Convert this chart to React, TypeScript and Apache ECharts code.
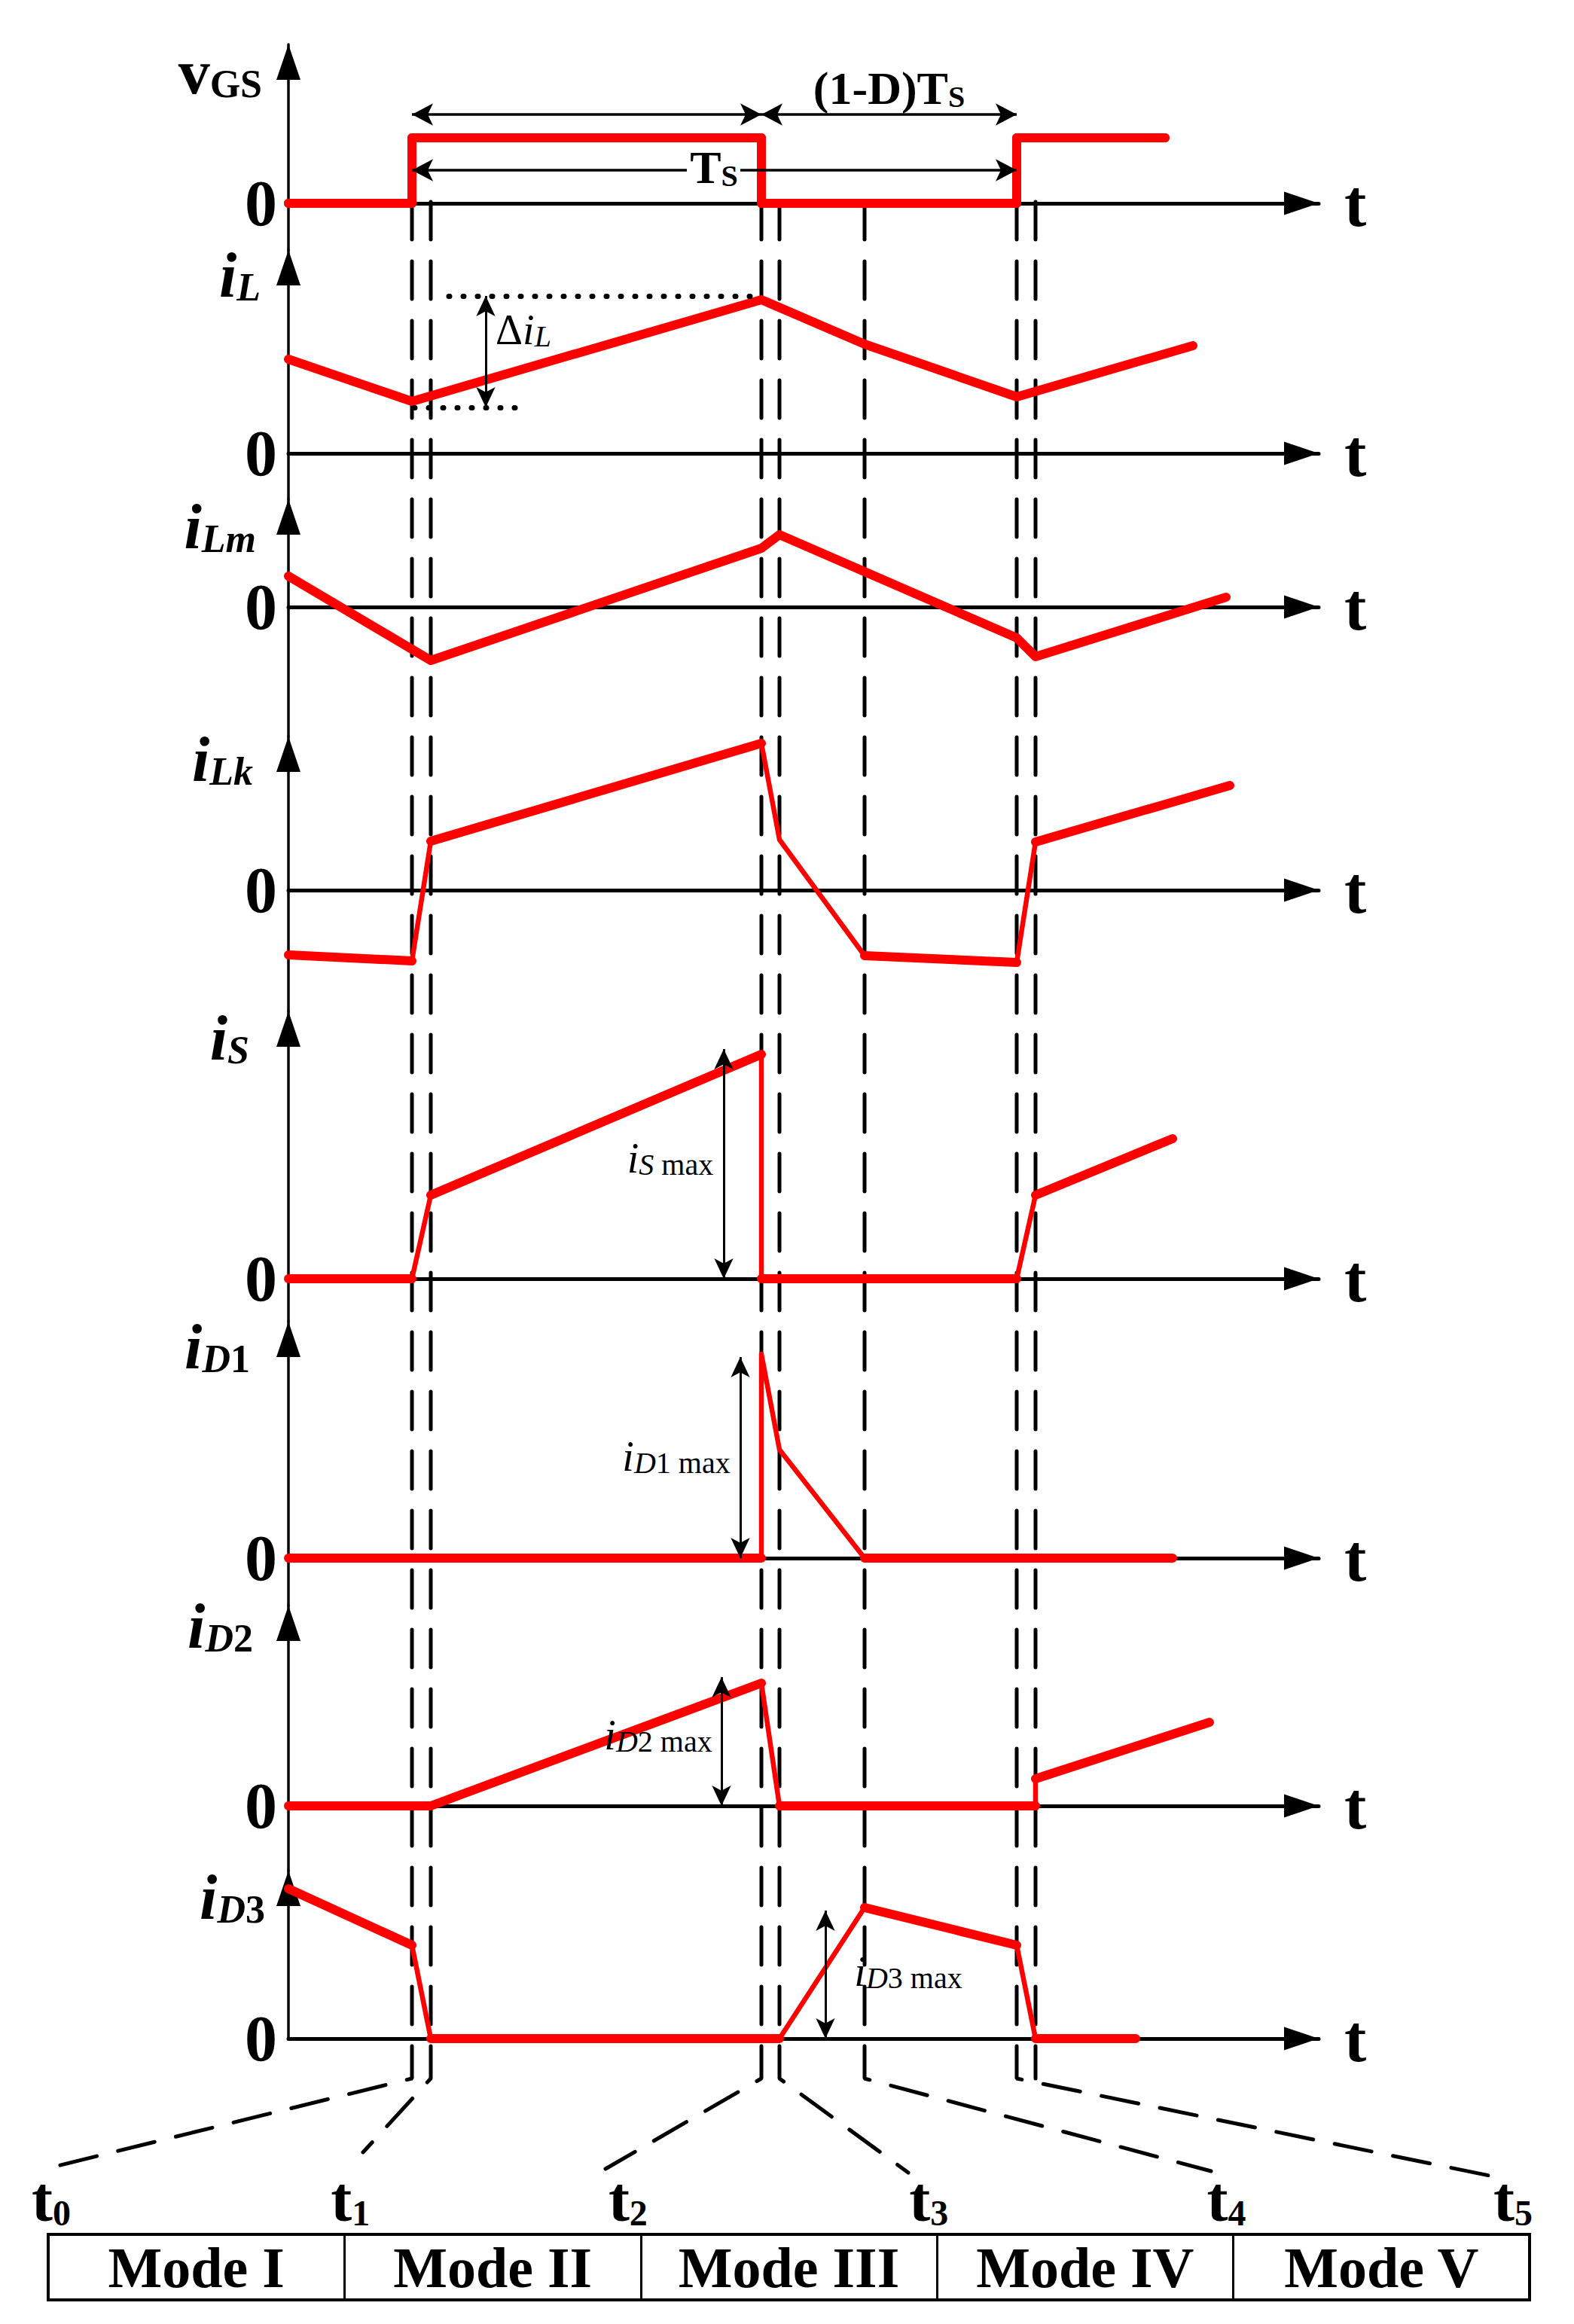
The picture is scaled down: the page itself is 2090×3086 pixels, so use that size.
import React, { useEffect, useRef } from 'react';
import * as echarts from 'echarts';

const W = 2090;
const H = 3086;
const SERIF = 'Liberation Serif';

// ---- switching instants (time units) ----
const T1A = 1.64, T1B = 1.89, T2A = 6.28, T2B = 6.52, T3 = 7.65, T4A = 9.67, T4B = 9.92;

// ---- waveforms [time, value] ----
const vgs = [[0, 0], [T1A, 0], [T1A, 0.87], [T2A, 0.87], [T2A, 0], [T4A, 0], [T4A, 0.87], [11.64, 0.87]];
const iL = [[0, 1.25], [T1A, 0.69], [T2A, 2.04], [T3, 1.45], [T4A, 0.75], [12.01, 1.43]];
const iLm = [[0, 0.41], [T1B, -0.71], [T2A, 0.78], [T2B, 0.96], [T4A, -0.41], [T4B, -0.66], [12.45, 0.13]];
const iLk = [[0, -0.86], [T1A, -0.94], [T1B, 0.65], [T2A, 1.95], [T2B, 0.67], [T3, -0.87], [T4A, -0.96], [T4B, 0.64], [12.5, 1.39]];
const iS = [[0, 0], [T1A, 0], [T1B, 1.11], [T2A, 2.98], [T2A, 0], [T4A, 0], [T4B, 1.11], [11.74, 1.86]];
const iD1 = [[0, 0], [T2A, 0], [T2A, 2.71], [T2B, 1.44], [T3, 0], [11.74, 0]];
const iD2 = [[0, 0], [T1B, 0], [T2A, 1.63], [T2B, 0], [T4B, 0], [T4B, 0.36], [12.23, 1.11]];
const iD3 = [[0, 1.99], [T1A, 1.24], [T1B, 0], [T2B, 0], [T3, 1.74], [T4A, 1.24], [T4B, 0], [11.25, 0]];

const waveforms = [vgs, iL, iLm, iLk, iS, iD1, iD2, iD3];
const panelNames = [
  '{v|v}{u|GS}', '{i|i}{s|L}', '{i|i}{s|Lm}', '{i|i}{s|Lk}',
  '{i|i}{s|S}', '{i|i}{s|D}{u|1}', '{i|i}{s|D}{u|2}', '{i|i}{s|D}{u|3}',
];

// ---- annotations ----
const DUTY_LEVEL = 1.18;          // D·Ts / (1-D)Ts arrows (vGS units)
const PERIOD_LEVEL = 0.44;        // Ts arrow
const periodGap = [5.29, 6.0];    // break in the Ts arrow around its label
const periodLabel = [5.65, 0.48];
const rippleHi = 2.09, rippleLo = 0.61, rippleArrowT = 2.62;
const rippleHiFrom = 2.13, rippleLoFrom = 1.67, rippleLoTo = 3.08;
// [panel index, time, top value]
const maxArrows = [[4, 5.78, 3.05], [5, 6.0, 2.67], [6, 5.75, 1.71], [7, 7.13, 1.7]];
// [panel index, time, value, text]
const annTexts = [
  [1, 3.12, 1.64, '{d|Δ}{i|i}{s|L}'],
  [4, 5.07, 1.6, '{i|i}{s|S}{m| max}'],
  [5, 5.15, 1.35, '{i|i}{s|D}{m|1 max}'],
  [6, 4.91, 0.94, '{i|i}{s|D}{m|2 max}'],
  [7, 8.23, 0.89, '{i|i}{s|D}{m|3 max}'],
];

// ---- dashed instants and mode table ----
const dashTimes = [T1A, T1B, T2A, T2B, T3, T4A, T4B];
const fanTargets = [[-3.23, 2880], [0.99, 2858], [4.21, 2880], [8.23, 2885], [12.25, 2883], [16.14, 2893], null];
const modes = ['Mode I', 'Mode II', 'Mode III', 'Mode IV', 'Mode V'];
const instantNames = ['0', '1', '2', '3', '4', '5'];
const instantLabelPos = [0.01, 1.02, 1.957, 2.972, 3.977, 4.944];

// ---- layout ----
const AXIS_LEFT = 383;
const PX_PER_UNIT = 100;
const T_MAX = 13.68;
const panelTops = [59, 332, 663, 978, 1343, 1755, 2132, 2484];
const panelZeros = [270, 602, 806, 1182, 1698, 2069, 2398, 2707];
const nameDrop = [36, 33, 36, 30, 35, 33, 27, 35];
const nameRight = [348, 346, 340, 336, 331, 332, 336, 352];
const DASH_TOP = 268, DASH_BOTTOM = 2760;
const TABLE = { left: 64, top: 2967, width: 1967, height: 87 };

const THICK = 12, THIN = 6.5, STEEP = 1.2;
const RED = '#ff0000';

const nameRich = {
  v: { fontFamily: SERIF, fontSize: 84, fontWeight: 'bold', lineHeight: 84, color: '#000' },
  i: { fontFamily: SERIF, fontSize: 84, fontWeight: 'bold', fontStyle: 'italic', lineHeight: 84, color: '#000' },
  s: { fontFamily: SERIF, fontSize: 52, fontWeight: 'bold', fontStyle: 'italic', lineHeight: 38, verticalAlign: 'bottom', color: '#000' },
  u: { fontFamily: SERIF, fontSize: 52, fontWeight: 'bold', lineHeight: 38, verticalAlign: 'bottom', color: '#000' },
};
const annRich = {
  d: { fontFamily: SERIF, fontSize: 56, lineHeight: 56, color: '#000' },
  i: { fontFamily: SERIF, fontSize: 56, fontStyle: 'italic', lineHeight: 56, color: '#000' },
  s: { fontFamily: SERIF, fontSize: 40, fontStyle: 'italic', lineHeight: 27, verticalAlign: 'bottom', color: '#000' },
  m: { fontFamily: SERIF, fontSize: 40, lineHeight: 27, verticalAlign: 'bottom', color: '#000' },
};
const topRich = {
  a: { fontFamily: SERIF, fontSize: 62, fontWeight: 'bold', lineHeight: 62, color: '#000' },
  b: { fontFamily: SERIF, fontSize: 40, fontWeight: 'bold', lineHeight: 36, verticalAlign: 'bottom', color: '#000' },
};

function thickPart(data: number[][], allThick: boolean) {
  const out: any[] = [];
  let lastEnd: number[] | null = null;
  for (let k = 0; k < data.length - 1; k++) {
    const a = data[k], b = data[k + 1];
    const steep = b[0] === a[0] || Math.abs((b[1] - a[1]) / (b[0] - a[0])) > STEEP;
    if (allThick || !steep) {
      if (lastEnd === a) {
        out.push(b);
      } else {
        if (out.length) out.push(['-', '-']);
        out.push(a, b);
      }
      lastEnd = b;
    }
  }
  return out;
}

function buildOption() {
  const n = panelTops.length;
  const grids: any[] = [];
  const xAxes: any[] = [];
  const yAxes: any[] = [];
  const series: any[] = [];

  for (let i = 0; i < n; i++) {
    const top = panelTops[i];
    const bottom = i + 1 < n ? panelTops[i + 1] : panelZeros[i];
    grids.push({ left: AXIS_LEFT, top, width: T_MAX * PX_PER_UNIT, height: bottom - top });
    xAxes.push({
      type: 'value', gridIndex: i, min: 0, max: T_MAX,
      axisLine: {
        show: true, onZero: true, lineStyle: { color: '#000', width: 5 },
        symbol: ['none', 'triangle'], symbolSize: [31, 46], symbolOffset: [0, -23],
      },
      axisTick: { show: false }, axisLabel: { show: false }, splitLine: { show: false },
      name: 't', nameLocation: 'end', nameGap: 34,
      nameTextStyle: { fontFamily: SERIF, fontSize: 88, fontWeight: 'bold', color: '#000', padding: [0, 0, 28, 0] },
    });
    yAxes.push({
      type: 'value', gridIndex: i,
      min: (panelZeros[i] - bottom) / PX_PER_UNIT,
      max: (panelZeros[i] - top) / PX_PER_UNIT,
      axisLine: {
        show: true, onZero: false, lineStyle: { color: '#000', width: 3.5 },
        symbol: ['none', 'triangle'], symbolSize: [32, 47], symbolOffset: [0, -23.5],
      },
      axisTick: { show: false }, splitLine: { show: false },
      axisLabel: {
        show: true, customValues: [0], formatter: (v: number) => (v === 0 ? '0' : ''),
        fontFamily: SERIF, fontSize: 86, fontWeight: 'bold', color: '#000', margin: 15,
      },
      name: panelNames[i], nameLocation: 'end', nameGap: -nameDrop[i],
      nameTextStyle: {
        align: 'right', verticalAlign: 'middle', padding: [0, AXIS_LEFT - nameRight[i], 0, 0],
        rich: nameRich,
      },
    });
  }

  // overlay grid (whole page) for the dashed instants
  grids.push({ left: 0, top: 0, width: W, height: H });
  xAxes.push({ type: 'value', gridIndex: n, min: -AXIS_LEFT / PX_PER_UNIT, max: (W - AXIS_LEFT) / PX_PER_UNIT, show: false });
  yAxes.push({ type: 'value', gridIndex: n, inverse: true, min: 0, max: H, show: false });

  // mode table grid
  grids.push({ ...TABLE, show: true, borderColor: '#000', borderWidth: 4, backgroundColor: 'transparent' });
  xAxes.push({
    type: 'category', gridIndex: n + 1, data: modes, position: 'bottom',
    axisLine: { show: false }, axisTick: { show: false },
    splitLine: { show: true, interval: 0, lineStyle: { color: '#000', width: 3 } },
    axisLabel: {
      interval: 0, margin: -TABLE.height / 2, verticalAlign: 'middle',
      fontFamily: SERIF, fontSize: 76, fontWeight: 'bold', color: '#000',
    },
  });
  xAxes.push({
    type: 'value', gridIndex: n + 1, position: 'top', min: 0, max: modes.length,
    axisLine: { show: false }, axisTick: { show: false }, splitLine: { show: false },
    axisLabel: {
      margin: 5, showMinLabel: true, showMaxLabel: true,
      customValues: instantLabelPos,
      formatter: (v: number) => {
        let best = 0;
        instantLabelPos.forEach((p, k) => { if (Math.abs(p - v) < Math.abs(instantLabelPos[best] - v)) best = k; });
        return `{t|t}{s|${instantNames[best]}}`;
      },
      rich: {
        t: { fontFamily: SERIF, fontSize: 84, fontWeight: 'bold', lineHeight: 84, color: '#000' },
        s: { fontFamily: SERIF, fontSize: 48, fontWeight: 'bold', lineHeight: 32, verticalAlign: 'bottom', color: '#000' },
      },
    },
  });
  yAxes.push({ type: 'value', gridIndex: n + 1, show: false, min: 0, max: 1 });

  // dashed vertical instants with fan lines to the table
  dashTimes.forEach((t, k) => {
    const pts: any[] = [[t, DASH_TOP], [t, DASH_BOTTOM]];
    if (fanTargets[k]) pts.push(fanTargets[k]);
    series.push({
      type: 'line', xAxisIndex: n, yAxisIndex: n, data: pts, symbol: 'none', silent: true, z: 1,
      lineStyle: { color: '#000', width: 5, type: [50, 29], cap: 'round' },
    });
  });

  const arrowLine = { color: '#000', width: 3, type: 'solid' };
  const dotted = { color: '#000', width: 7, type: [1, 18], cap: 'round' };

  for (let i = 0; i < n; i++) {
    const data = waveforms[i];
    const allThick = i === 0;
    series.push({
      type: 'line', xAxisIndex: i, yAxisIndex: i, data, symbol: 'none', silent: true, z: 3,
      lineStyle: { color: RED, width: allThick ? THICK : THIN, cap: 'round', join: 'round' },
    });
    const extra: any = {
      type: 'line', xAxisIndex: i, yAxisIndex: i, data: thickPart(data, allThick), symbol: 'none',
      silent: true, z: 3, connectNulls: false,
      lineStyle: { color: RED, width: THICK, cap: 'round', join: 'round' },
    };

    const mlData: any[] = [];
    if (i === 0) {
      mlData.push(
        [{ coord: [T1A, DUTY_LEVEL] }, { coord: [T2A, DUTY_LEVEL] }],
        [{
          coord: [T2A, DUTY_LEVEL],
          label: { show: true, position: 'insideMiddleTop', distance: 4, formatter: '{a|(1-D)T}{b|S}', rich: topRich },
        }, { coord: [T4A, DUTY_LEVEL] }],
        [{ coord: [periodGap[0], PERIOD_LEVEL], symbol: 'none' }, { coord: [T1A, PERIOD_LEVEL] }],
        [{ coord: [periodGap[1], PERIOD_LEVEL], symbol: 'none' }, { coord: [T4A, PERIOD_LEVEL] }],
      );
    }
    if (i === 1) {
      mlData.push(
        [{ coord: [rippleHiFrom, rippleHi], symbol: 'none', lineStyle: dotted }, { coord: [T2A, rippleHi], symbol: 'none' }],
        [{ coord: [rippleLoFrom, rippleLo], symbol: 'none', lineStyle: dotted }, { coord: [rippleLoTo, rippleLo], symbol: 'none' }],
        [{ coord: [rippleArrowT, rippleHi] }, { coord: [rippleArrowT, rippleLo] }],
      );
    }
    maxArrows.filter((a) => a[0] === i).forEach((a) => {
      mlData.push([{ coord: [a[1], a[2]] }, { coord: [a[1], 0] }]);
    });
    if (mlData.length) {
      extra.markLine = {
        silent: true, animation: false,
        symbol: ['arrow', 'arrow'], symbolSize: i === 0 ? [22, 28] : [19, 27],
        lineStyle: i === 0 ? { ...arrowLine, width: 3.5 } : arrowLine,
        label: { show: false },
        emphasis: { disabled: true },
        data: mlData,
      };
    }
    const texts: any[] = annTexts.filter((a) => a[0] === i).map((a) => ({
      coord: [a[1], a[2]], label: { formatter: a[3], rich: annRich },
    }));
    if (i === 0) {
      texts.push({ coord: periodLabel, label: { formatter: '{a|T}{b|S}', rich: topRich } });
    }
    if (texts.length) {
      extra.markPoint = {
        silent: true, animation: false, symbol: 'circle', symbolSize: 1,
        itemStyle: { color: 'rgba(0,0,0,0)' },
        label: { show: true, position: 'inside', color: '#000' },
        data: texts,
      };
    }
    series.push(extra);
  }

  return {
    animation: false,
    backgroundColor: '#ffffff',
    textStyle: { fontFamily: SERIF },
    grid: grids,
    xAxis: xAxes,
    yAxis: yAxes,
    series,
  };
}

export default function App() {
  const ref = useRef<HTMLDivElement>(null);
  useEffect(() => {
    const chart = echarts.init(ref.current as HTMLDivElement, null, { renderer: 'svg', width: W, height: H });
    chart.setOption(buildOption() as any);
    return () => chart.dispose();
  }, []);
  return (
    <div
      ref={ref}
      style={{ position: 'absolute', left: 0, top: 0, width: W, height: H, background: '#fff' }}
    />
  );
}
